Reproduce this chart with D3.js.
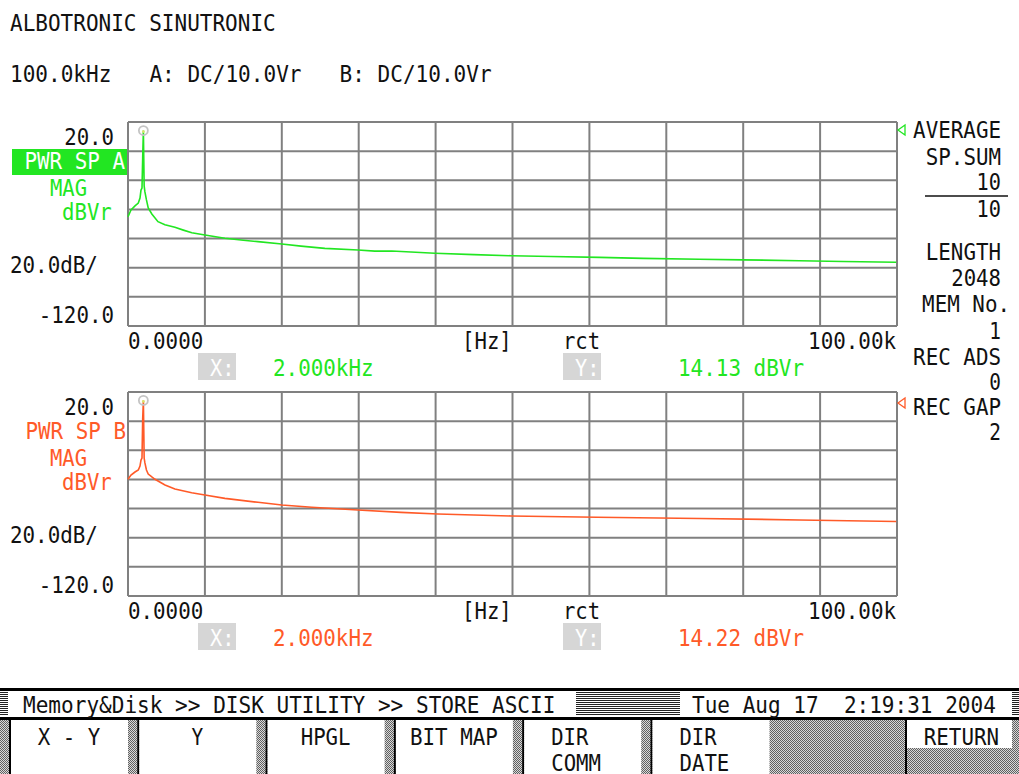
<!DOCTYPE html>
<html>
<head>
<meta charset="utf-8">
<script src="https://cdn.jsdelivr.net/npm/d3@7"></script>
<style>
  html, body { margin: 0; padding: 0; background: #fff; }
  svg text { font-family: "DejaVu Sans Mono", monospace; font-size: 23px; white-space: pre; }
</style>
</head>
<body>
<svg id="chart" width="1019" height="774"></svg>
<script>
// ---- data ----
var freqTicks = d3.range(0, 101, 10);        // kHz, 10 divisions
var dbTicks = d3.range(-120, 21, 20);        // dBVr, 20 dB/div

// channel A (green)  [kHz]
var freqA = [0, 0.39, 0.91, 1.34, 1.56, 1.69, 1.82, 1.91, 2.0, 2.1, 2.2, 2.4, 2.63, 3.1, 3.9, 4.8,
             6.1, 7.2, 8.3, 10, 12.6, 15, 16.9, 20, 22.5, 25.6, 29.9, 32.1, 34.3, 39.9, 45, 49.9,
             55, 61.3, 67, 74.3, 80, 87.3, 93, 99.9];
var magA  = [-45.0, -40.4, -37.6, -35.6, -32.2, -26.7, -25.3, -4.7, 14.13, -23.9, -28, -33.5, -39, -43.1, -48.4, -50.5,
             -52.3, -54.2, -56.0, -57.6, -59.8, -61.2, -62.1, -63.7, -65.2, -66.7, -67.8, -68.6, -68.5, -70.1, -71.0, -71.8,
             -72.3, -72.9, -73.6, -74.2, -74.6, -75.2, -75.7, -76.3];

// channel B (orange)
var freqB = [0, 0.39, 0.91, 1.34, 1.56, 1.69, 1.82, 1.91, 2.0, 2.1, 2.2, 2.4, 2.63, 3.1, 3.51, 4.81,
             6.1, 8.28, 10, 12.6, 16.9, 20, 23.9, 29.9, 35.5, 40.3, 49.8, 61, 74.3, 87.3, 99.9];
var magB  = [-39.9, -37, -34.9, -33.5, -30.8, -26.7, -25.3, 1.5, 14.22, -25.3, -28.7, -33.5, -36.3, -38.3, -39.9, -43.8,
             -46.6, -49.1, -50.7, -53.0, -55.7, -57.6, -59.1, -61.0, -62.6, -63.7, -65.1, -66.0, -66.8, -67.8, -68.9];

var cursorA = {f: 2.0, db: 14.13, xText: "2.000kHz", yText: "14.13 dBVr"};
var cursorB = {f: 2.0, db: 14.22, xText: "2.000kHz", yText: "14.22 dBVr"};

var sideLabels = [["AVERAGE", 138], ["SP.SUM", 165], ["10", 190], ["10", 217], ["LENGTH", 260],
                  ["2048", 286], ["MEM No.", 312], ["1", 339], ["REC ADS", 365], ["0", 390],
                  ["REC GAP", 415], ["2", 440]];

var buttons = [["X - Y", ""], ["Y", ""], ["HPGL", ""], ["BIT MAP", ""], ["DIR", "COMM"], ["DIR", "DATE"]];

// ---- setup ----
var svg = d3.select("#chart");
var green = "#22e622", orange = "#ff5a28", grid = "#808080";
var CW = 12.7;   // char advance of the screen font

var defs = svg.append("defs");
var hatch = defs.append("pattern").attr("id", "hatch").attr("width", 4).attr("height", 2)
  .attr("patternUnits", "userSpaceOnUse");
hatch.append("rect").attr("width", 4).attr("height", 2).attr("fill", "#fff");
hatch.append("rect").attr("width", 4).attr("height", 1).attr("fill", "#222");
var dots = defs.append("pattern").attr("id", "dots").attr("width", 2).attr("height", 2)
  .attr("patternUnits", "userSpaceOnUse");
dots.append("rect").attr("width", 2).attr("height", 2).attr("fill", "#d8d8d8");
dots.append("rect").attr("width", 1).attr("height", 1).attr("fill", "#606060");
dots.append("rect").attr("x", 1).attr("y", 1).attr("width", 1).attr("height", 1).attr("fill", "#606060");

function txt(x, y, s, color, anchor) {
  return svg.append("text")
    .attr("x", x).attr("y", y)
    .attr("fill", color || "#111")
    .attr("text-anchor", anchor || "start")
    .attr("textLength", s.length * CW - 1)
    .attr("lengthAdjust", "spacingAndGlyphs")
    .text(s);
}

// header
txt(10, 31, "ALBOTRONIC SINUTRONIC");
txt(10, 82, "100.0kHz   A: DC/10.0Vr   B: DC/10.0Vr");

var xScale = d3.scaleLinear().domain([0, 100]).range([128, 897]);

function drawPlot(top, freq, mag, color, cursor, name, boxed) {
  var bottom = top + 204;
  var yScale = d3.scaleLinear().domain([-120, 20]).range([bottom, top]);
  var g = svg.append("g");

  g.append("rect").attr("x", xScale(0)).attr("y", top)
    .attr("width", xScale(100) - xScale(0)).attr("height", bottom - top).attr("fill", "#fff");

  g.selectAll(".vx").data(freqTicks).enter().append("line")
    .attr("x1", d => xScale(d)).attr("x2", d => xScale(d))
    .attr("y1", top).attr("y2", bottom)
    .attr("stroke", grid).attr("stroke-width", 2);
  g.selectAll(".hy").data(dbTicks).enter().append("line")
    .attr("x1", xScale(0)).attr("x2", xScale(100))
    .attr("y1", d => yScale(d)).attr("y2", d => yScale(d))
    .attr("stroke", grid).attr("stroke-width", 2);

  var line = d3.line().x(d => xScale(d[0])).y(d => yScale(d[1]));
  g.append("path").datum(d3.zip(freq, mag))
    .attr("d", line).attr("fill", "none").attr("stroke", color).attr("stroke-width", 1.6);

  // peak cursor
  g.append("circle").attr("cx", xScale(cursor.f)).attr("cy", yScale(cursor.db)).attr("r", 4.5)
    .attr("fill", "none").attr("stroke", "#c4c4c4").attr("stroke-width", 1.8);
  g.append("circle").attr("cx", xScale(cursor.f)).attr("cy", yScale(cursor.db) + 1).attr("r", 1.4)
    .attr("fill", "#d9e36a");

  // left labels
  txt(114, top + 23, "20.0", "#111", "end");
  if (boxed) {
    svg.append("rect").attr("x", 12).attr("y", top + 27).attr("width", 115).attr("height", 26).attr("fill", color);
    txt(125, top + 47, name, "#fff", "end");
  } else {
    txt(126, top + 47, name, color, "end");
  }
  txt(50, top + 74, "MAG", color);
  txt(62, top + 98, "dBVr", color);
  txt(10, top + 151, "20.0dB/");
  txt(114, top + 201, "-120.0", "#111", "end");

  // x labels
  txt(128, bottom + 23, "0.0000");
  txt(462, bottom + 23, "[Hz]");
  txt(563, bottom + 23, "rct");
  txt(896, bottom + 23, "100.00k", "#111", "end");

  svg.append("rect").attr("x", 198).attr("y", bottom + 27).attr("width", 38).attr("height", 27).attr("fill", "#d6d6d6");
  txt(210, bottom + 50, "X:", "#fff");
  txt(273, bottom + 50, cursor.xText, color);
  svg.append("rect").attr("x", 563).attr("y", bottom + 27).attr("width", 38).attr("height", 27).attr("fill", "#d6d6d6");
  txt(575, bottom + 50, "Y:", "#fff");
  txt(678, bottom + 50, cursor.yText, color);
}

drawPlot(122, freqA, magA, green, cursorA, "PWR SP A", true);
drawPlot(392, freqB, magB, orange, cursorB, "PWR SP B", false);

// right panel
sideLabels.forEach(function(d) {
  var endX = d[0] === "MEM No." ? 1010 : 1001;
  txt(endX, d[1], d[0], "#111", "end");
});
svg.append("line").attr("x1", 925).attr("x2", 1008).attr("y1", 196).attr("y2", 196)
  .attr("stroke", "#111").attr("stroke-width", 1.5);
function tri(y, color) {
  svg.append("path").attr("d", "M898," + y + "L905," + (y - 5) + "L905," + (y + 5) + "Z")
    .attr("fill", "none").attr("stroke", color).attr("stroke-width", 1.3);
}
tri(130, green);
tri(403, orange);

// status bar
svg.append("rect").attr("x", 0).attr("y", 688).attr("width", 1019).attr("height", 32).attr("fill", "#000");
svg.append("rect").attr("x", 0).attr("y", 691).attr("width", 1019).attr("height", 26).attr("fill", "#fff");
[[0, 8], [576, 104], [1012, 7]].forEach(function(b) {
  svg.append("rect").attr("x", b[0]).attr("y", 692).attr("width", b[1]).attr("height", 24).attr("fill", "url(#hatch)");
});
txt(23, 713, "Memory&Disk >> DISK UTILITY >> STORE ASCII");
txt(692, 713, "Tue Aug 17  2:19:31 2004");

// soft keys
svg.append("rect").attr("x", 0).attr("y", 720).attr("width", 1019).attr("height", 54).attr("fill", "url(#dots)");
var keyW = 128.3;
buttons.forEach(function(b, i) {
  var x0 = 9 + i * keyW;
  svg.append("rect").attr("x", x0).attr("y", 720).attr("width", 2).attr("height", 54).attr("fill", "#000");
  svg.append("rect").attr("x", x0 + 2).attr("y", 720).attr("width", 117).attr("height", 54).attr("fill", "#fff");
  var cx = x0 + 60;
  if (b[1]) {
    txt(x0 + 29, 745, b[0]);
    txt(x0 + 29, 771, b[1]);
  } else {
    txt(cx, 745, b[0], "#111", "middle");
  }
});
svg.append("rect").attr("x", 905).attr("y", 720).attr("width", 2).attr("height", 54).attr("fill", "#000");
svg.append("rect").attr("x", 907).attr("y", 720).attr("width", 105).attr("height", 28).attr("fill", "#fff");
txt(999, 745, "RETURN", "#111", "end");
</script>
</body>
</html>
